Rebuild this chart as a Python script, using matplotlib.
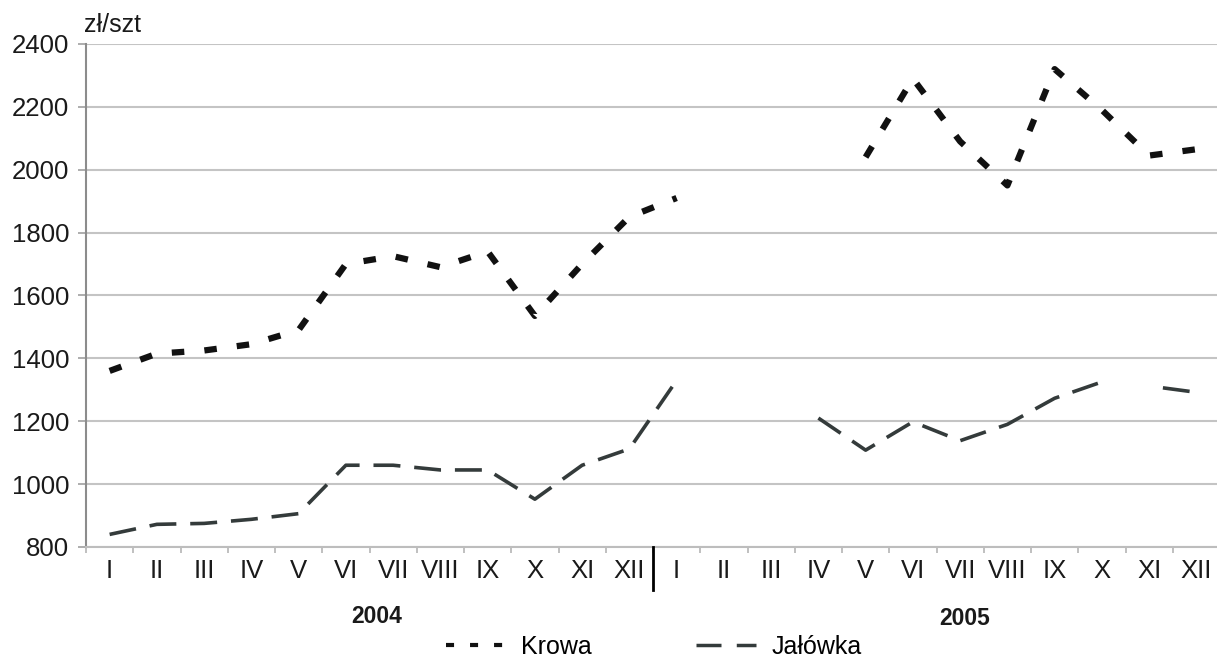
import numpy as np
import matplotlib
matplotlib.use("Agg")
import matplotlib.pyplot as plt
from matplotlib.lines import Line2D
import matplotlib.transforms as mtrans

plt.rcParams['font.family'] = ['Liberation Sans', 'DejaVu Sans']
plt.rcParams['lines.scale_dashes'] = False

# ---- data ----
months = ['I', 'II', 'III', 'IV', 'V', 'VI', 'VII', 'VIII', 'IX', 'X', 'XI', 'XII',
          'I', 'II', 'III', 'IV', 'V', 'VI', 'VII', 'VIII', 'IX', 'X', 'XI', 'XII']
years = ['2004', '2005']
nan = np.nan
krowa = [1360, 1415, 1425, 1445, 1490, 1700, 1725, 1690, 1740, 1535, 1700, 1850,
         1910, nan, nan, nan, 2040, 2290, 2090, 1950, 2320, 2190, 2045, 2065]
jalowka = [840, 872, 875, 888, 906, 1060, 1060, 1045, 1045, 952, 1060, 1112,
           1330, nan, nan, 1210, 1108, 1198, 1138, 1190, 1273, 1325, 1312, 1292]
jalowka_gap_after = [21]   # no connecting line between X and XI 2005
series_names = ['Krowa', 'Jałówka']

fig = plt.figure(figsize=(12.17, 6.61), dpi=100)
ax = fig.add_axes([0.07067, 0.1725, 0.9318, 0.761])

x = np.arange(len(months))


def plot_runs(vals, gaps, **kw):
    vals = np.asarray(vals, dtype=float)
    runs, cur = [], []
    for i, v in enumerate(vals):
        if np.isnan(v):
            if cur:
                runs.append(cur)
            cur = []
            continue
        cur.append(i)
        if i in gaps:
            runs.append(cur)
            cur = []
    if cur:
        runs.append(cur)
    for k, r in enumerate(runs):
        idx = np.array(r)
        style = dict(kw)
        if k > 0 and r[0] - 1 in gaps:
            on, off = style.pop('dashes')
            style['linestyle'] = (on, (on, off))
        ax.plot(idx, vals[idx], **style)


plot_runs(krowa, [], color='#111111', lw=4.5, dashes=(9, 14.5),
          dash_capstyle='butt', zorder=3)
plot_runs(jalowka, jalowka_gap_after, color='#343b3b', lw=2.6, dashes=(19.4, 10),
          dash_capstyle='butt', zorder=3)

ax.set_xlim(-0.5, len(months) - 0.5)
ax.set_ylim(800, 2400)
ax.set_yticks(np.arange(800, 2401, 200))
ax.set_xticks(x)
ax.set_xticklabels(months)
ax.set_xticks(np.arange(-0.5, len(months), 1), minor=True)

ax.grid(axis='y', color='#c4c4c4', lw=1.5)
ax.set_axisbelow(True)
for s in ['top', 'right']:
    ax.spines[s].set_visible(False)
ax.spines['left'].set_color('#8c8c8c')
ax.spines['left'].set_linewidth(1.5)
ax.spines['bottom'].set_color('#bdbdbd')
ax.spines['bottom'].set_linewidth(1.5)

ax.tick_params(axis='y', length=6, width=1.2, color='#a0a0a0', pad=6,
               labelsize=18.5, labelcolor='#1a1a1a')
ax.tick_params(axis='x', which='major', length=0, pad=9,
               labelsize=18.5, labelcolor='#1a1a1a')
ax.tick_params(axis='x', which='minor', length=4, width=1.2, color='#b5b5b5')

# year separator
trans = mtrans.blended_transform_factory(ax.transData, ax.transAxes)
ax.plot([11.5, 11.5], [0, -0.086], color='black', lw=2, transform=trans,
        clip_on=False, zorder=5)

# year labels
ax.text(5.65, -0.139, years[0], transform=trans, ha='center', va='center',
        fontsize=16.5, fontweight='bold', color='#1a1a1a')
ax.text(18.1, -0.142, years[1], transform=trans, ha='center', va='center',
        fontsize=16.5, fontweight='bold', color='#1a1a1a')

# unit label
fig.text(0.069, 1 - 32 / 661, 'zł/szt', ha='left', va='baseline',
         fontsize=18, color='#1a1a1a')

# legend
handles = [Line2D([], [], color='#111111', lw=3, dashes=(5.8, 11.5), dash_capstyle='butt'),
           Line2D([], [], color='#343b3b', lw=2.5, dashes=(18, 11), dash_capstyle='butt')]
fig.legend(handles, series_names, loc='center', ncol=2, frameon=False,
           bbox_to_anchor=(0.537, 1 - 647 / 661), fontsize=18,
           handlelength=2.4, handletextpad=0.6, columnspacing=4.2,
           borderpad=0, borderaxespad=0)

fig.savefig('out.png', dpi=100)
